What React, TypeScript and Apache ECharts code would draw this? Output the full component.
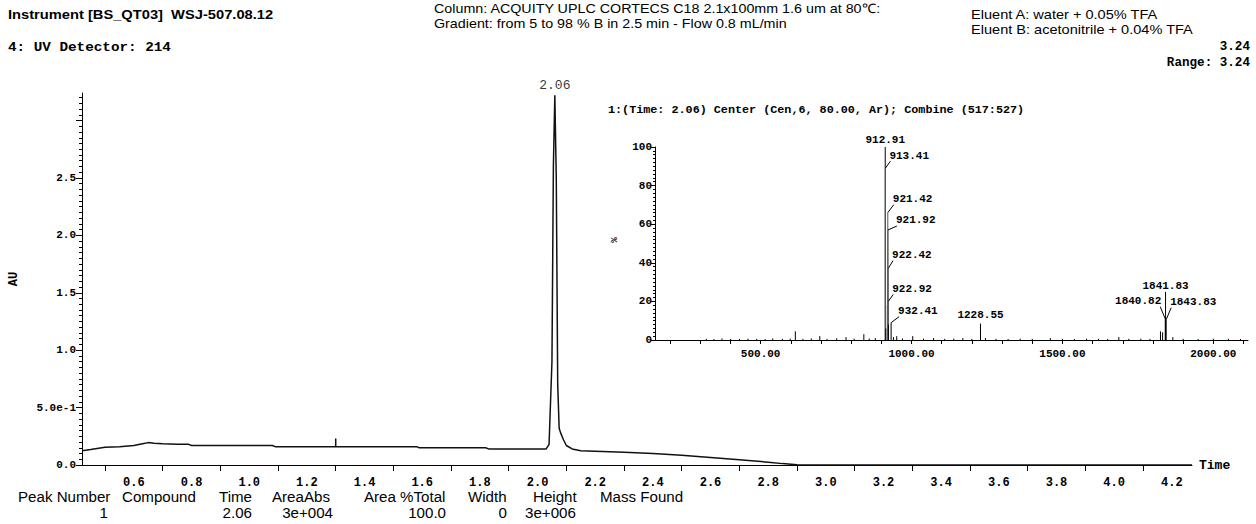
import React, { useEffect, useRef } from "react";
import * as echarts from "echarts";

// ---------- Chromatogram (UV 214) ----------
const chromTime = [0.42, 0.45, 0.5, 0.55, 0.6, 0.63, 0.65, 0.67, 0.7, 0.75, 0.79, 0.8, 0.9, 1.0, 1.08, 1.09, 1.2, 1.29, 1.3, 1.3, 1.3, 1.4, 1.5, 1.58, 1.59, 1.7, 1.82, 1.83, 1.95, 2.0, 2.03, 2.04, 2.05, 2.055, 2.06, 2.065, 2.07, 2.075, 2.08, 2.09, 2.1, 2.12, 2.15, 2.2, 2.3, 2.4, 2.5, 2.6, 2.7, 2.8, 2.85, 2.9, 3.0, 4.27];
const chromAU = [0.125, 0.135, 0.155, 0.16, 0.17, 0.185, 0.195, 0.19, 0.185, 0.18, 0.18, 0.17, 0.17, 0.17, 0.17, 0.16, 0.16, 0.16, 0.16, 0.23, 0.16, 0.16, 0.16, 0.16, 0.15, 0.15, 0.15, 0.14, 0.14, 0.14, 0.14, 0.18, 0.9, 2.6, 3.22, 2.5, 0.7, 0.32, 0.28, 0.22, 0.17, 0.14, 0.125, 0.12, 0.11, 0.1, 0.085, 0.065, 0.045, 0.025, 0.012, 0.003, 0, 0];
const peakTimes = [2.06];
const peakHeights = [3.22];

const xTickValues = [0.5, 0.7, 0.9, 1.1, 1.3, 1.5, 1.7, 1.9, 2.1, 2.3, 2.5, 2.7, 2.9, 3.1, 3.3, 3.5, 3.7, 3.9, 4.1];
const xLabelValues = [0.6, 0.8, 1.0, 1.2, 1.4, 1.6, 1.8, 2.0, 2.2, 2.4, 2.6, 2.8, 3.0, 3.2, 3.4, 3.6, 3.8, 4.0, 4.2];
const yMajorTicks = [0, 0.5, 1.0, 1.5, 2.0, 2.5, 3.0];
const yLabelValues = [0, 0.5, 1.0, 1.5, 2.0, 2.5];
const yLabelTexts = ["0.0", "5.0e-1", "1.0", "1.5", "2.0", "2.5"];
const yMinorTicks = Array.from({ length: 64 }, (_, i) => +((i + 1) * 0.05).toFixed(2));

// ---------- Mass spectrum (inset) ----------
const msMz = [320, 345, 372, 401, 430, 458, 487, 515, 540, 572, 598, 615, 640, 668, 696, 720, 752, 783, 810, 842, 860, 880, 912.91, 913.41, 913.91, 914.41, 914.91, 921.42, 921.92, 922.42, 922.92, 923.42, 932.41, 940, 951, 970, 1004, 1040, 1073, 1110, 1140, 1170, 1200, 1228.55, 1245, 1280, 1320, 1360, 1400, 1460, 1500, 1540, 1580, 1620, 1650, 1687, 1720, 1760, 1790, 1825, 1832, 1840.82, 1841.83, 1843.83, 1866, 1900, 1950, 2000, 2050, 2090];
const msIntensity = [0.6, 0.5, 0.8, 0.6, 0.5, 0.7, 0.6, 0.5, 0.8, 0.6, 0.7, 4.5, 0.6, 0.8, 2.0, 0.6, 0.9, 1.5, 0.7, 3.0, 0.8, 1.0, 100, 89, 45, 18, 6, 66, 57, 37, 20, 8, 9, 1.5, 2.0, 0.8, 2.0, 0.7, 1.0, 0.6, 0.7, 1.0, 0.6, 8.5, 1.0, 0.6, 0.5, 0.7, 0.6, 1.0, 0.6, 0.5, 0.7, 0.6, 0.5, 1.5, 0.6, 0.7, 0.6, 4.5, 4.0, 11, 12.5, 10.5, 1.5, 0.6, 0.5, 0.7, 0.6, 0.5];
const msLabelMz = [912.91, 913.41, 921.42, 921.92, 922.42, 922.92, 932.41, 1228.55, 1840.82, 1841.83, 1843.83];
const msLabelIntensity = [100, 89, 66, 57, 37, 20, 9, 8.5, 11, 12.5, 10.5];
const msXTicks = [200, 300, 400, 500, 600, 700, 800, 900, 1000, 1100, 1200, 1300, 1400, 1500, 1600, 1700, 1800, 1900, 2000, 2100];
const msXLabels = [500, 1000, 1500, 2000];
const msYMajor = [0, 20, 40, 60, 80, 100];
const msYMinor = Array.from({ length: 49 }, (_, i) => (i + 1) * 2);

// label leader placement (pixels): dx, dy from peak top; text alignment
const labelPlacement = [
  { dx: 0, dy: -2, align: "center" },
  { dx: 5, dy: -7, align: "left" },
  { dx: 6, dy: -8, align: "left" },
  { dx: 9, dy: -4, align: "left" },
  { dx: 5, dy: -8, align: "left" },
  { dx: 5, dy: -7, align: "left" },
  { dx: 8, dy: -6, align: "left" },
  { dx: 0, dy: -3, align: "center" },
  { dx: -5, dy: -12, align: "right" },
  { dx: 0, dy: -24, align: "center" },
  { dx: 5, dy: -12, align: "left" },
];

const MONO = '"Liberation Mono", "DejaVu Sans Mono", monospace';
const SANS = '"Liberation Sans", Arial, sans-serif';

const headerTexts = [
  { t: "Instrument [BS_QT03]  WSJ-507.08.12", x: 8, y: 14, f: `bold 13px ${SANS}`, a: "left", sx: 1.13 },
  { t: "4: UV Detector: 214", x: 8, y: 48, f: `bold 13px ${MONO}`, a: "left", sx: 1.1 },
  { t: "Column: ACQUITY UPLC CORTECS C18 2.1x100mm 1.6 um at 80℃:", x: 434, y: 9, f: `13px ${SANS}`, a: "left", sx: 1.1 },
  { t: "Gradient: from 5 to 98 % B in 2.5 min - Flow 0.8 mL/min", x: 434, y: 24, f: `13px ${SANS}`, a: "left", sx: 1.1 },
  { t: "Eluent A: water + 0.05% TFA", x: 971, y: 15, f: `13px ${SANS}`, a: "left", sx: 1.12 },
  { t: "Eluent B: acetonitrile + 0.04% TFA", x: 971, y: 30, f: `13px ${SANS}`, a: "left", sx: 1.12 },
  { t: "3.24", x: 1250, y: 47, f: `bold 12px ${MONO}`, a: "right", sx: 1.05 },
  { t: "Range: 3.24", x: 1250, y: 63, f: `bold 12px ${MONO}`, a: "right", sx: 1.05 },
  { t: "1:(Time: 2.06) Center (Cen,6, 80.00, Ar); Combine (517:527)", x: 608, y: 110, f: `bold 11px ${MONO}`, a: "left", sx: 1.07 },
];

const tableHeaders = ["Peak Number", "Compound", "Time", "AreaAbs", "Area %Total", "Width", "Height", "Mass Found"];
const tableValues = ["1", "", "2.06", "3e+004", "100.0", "0", "3e+006", ""];
const headerX = [18, 122, 219, 272, 364, 468, 533, 600];
const valueX = [108, 0, 252, 333, 446, 507, 525, 0];
const valueAlign = ["right", "left", "right", "right", "right", "right", "left", "left"];

export default function App() {
  const ref = useRef<HTMLDivElement>(null);
  useEffect(() => {
    if (!ref.current) return;
    const chart = echarts.init(ref.current, undefined, { renderer: "svg" });

    const graphics: any[] = headerTexts.map((h) => ({
      type: "text",
      x: h.x,
      y: h.y,
      scaleX: h.sx,
      style: { text: h.t, font: h.f, fill: "#000", align: h.a, verticalAlign: "middle" },
    }));
    tableHeaders.forEach((t, i) =>
      graphics.push({
        type: "text",
        x: headerX[i],
        y: 497,
        scaleX: 1.08,
        style: { text: t, font: `14px ${SANS}`, fill: "#000", align: "left", verticalAlign: "middle" },
      })
    );
    tableValues.forEach((t, i) => {
      if (!t) return;
      graphics.push({
        type: "text",
        x: valueX[i],
        y: 513,
        scaleX: 1.08,
        style: { text: t, font: `14px ${SANS}`, fill: "#000", align: valueAlign[i], verticalAlign: "middle" },
      });
    });
    graphics.push({
      type: "text",
      x: 613,
      y: 240,
      rotation: -Math.PI / 2,
      style: { text: "%", font: `bold 9px ${MONO}`, fill: "#000", align: "center", verticalAlign: "middle" },
    });

    const axisLabelMono = { fontFamily: MONO, fontWeight: "bold" as const, fontSize: 11, color: "#000" };

    const option: any = {
      animation: false,
      backgroundColor: "#fff",
      grid: [
        { left: 82, right: 64, top: 93, bottom: 59 },
        { left: 655, top: 147, width: 593, height: 193 },
      ],
      xAxis: [
        {
          type: "value",
          gridIndex: 0,
          position: "bottom",
          min: 0.42,
          max: 4.27,
          name: "Time",
          nameLocation: "end",
          nameGap: 7,
          nameTextStyle: { fontFamily: MONO, fontWeight: "bold", fontSize: 13, color: "#000" },
          axisLine: { show: true, lineStyle: { color: "#000", width: 1 } },
          axisTick: { show: true, customValues: xTickValues, length: 6, inside: false, lineStyle: { color: "#000" } },
          axisLabel: {
            customValues: xLabelValues,
            formatter: (v: number) => v.toFixed(1),
            margin: 12,
            fontFamily: MONO,
            fontWeight: "bold",
            fontSize: 12,
            color: "#000",
          },
          splitLine: { show: false },
        },
        {
          type: "value",
          gridIndex: 1,
          position: "bottom",
          min: 150,
          max: 2115,
          axisLine: { show: true, lineStyle: { color: "#000", width: 1 } },
          axisTick: { show: true, customValues: msXTicks, length: 4, lineStyle: { color: "#000" } },
          axisLabel: {
            customValues: msXLabels,
            formatter: (v: number) => v.toFixed(2),
            margin: 8,
            ...axisLabelMono,
          },
          splitLine: { show: false },
        },
      ],
      yAxis: [
        {
          type: "value",
          gridIndex: 0,
          position: "left",
          min: 0,
          max: 3.24,
          name: "AU",
          nameLocation: "middle",
          nameGap: 62,
          nameRotate: 90,
          nameTextStyle: { fontFamily: MONO, fontWeight: "bold", fontSize: 12, color: "#000" },
          axisLine: { show: true, lineStyle: { color: "#000", width: 1 } },
          axisTick: { show: true, customValues: yMajorTicks, length: 6, lineStyle: { color: "#000" } },
          axisLabel: {
            customValues: yLabelValues,
            formatter: (v: number) => {
              const i = yLabelValues.findIndex((x) => Math.abs(x - v) < 1e-6);
              return i >= 0 ? yLabelTexts[i] : "";
            },
            margin: 6,
            ...axisLabelMono,
          },
          splitLine: { show: false },
        },
        {
          type: "value",
          gridIndex: 0,
          position: "left",
          offset: 0,
          min: 0,
          max: 3.24,
          axisLine: { show: false },
          axisTick: { show: true, customValues: yMinorTicks, length: 3, lineStyle: { color: "#000" } },
          axisLabel: { show: false },
          splitLine: { show: false },
        },
        {
          type: "value",
          gridIndex: 1,
          position: "left",
          min: 0,
          max: 100,
          axisLine: { show: true, lineStyle: { color: "#000", width: 1 } },
          axisTick: { show: true, customValues: msYMajor, length: 4, lineStyle: { color: "#000" } },
          axisLabel: { customValues: msYMajor, margin: 3, ...axisLabelMono },
          splitLine: { show: false },
        },
        {
          type: "value",
          gridIndex: 1,
          position: "left",
          offset: 0,
          min: 0,
          max: 100,
          axisLine: { show: false },
          axisTick: { show: true, customValues: msYMinor, length: 2, lineStyle: { color: "#000" } },
          axisLabel: { show: false },
          splitLine: { show: false },
        },
      ],
      graphic: graphics,
      series: [
        {
          type: "line",
          xAxisIndex: 0,
          yAxisIndex: 0,
          data: chromTime.map((t, i) => [t, chromAU[i]]),
          showSymbol: false,
          symbol: "none",
          lineStyle: { color: "#111", width: 1.5 },
          z: 3,
        },
        {
          type: "scatter",
          xAxisIndex: 0,
          yAxisIndex: 0,
          data: peakTimes.map((t, i) => [t, peakHeights[i]]),
          symbolSize: 0,
          label: {
            show: true,
            position: "top",
            distance: 3,
            formatter: (p: any) => p.value[0].toFixed(2),
            fontFamily: MONO,
            fontSize: 13,
            color: "#000",
          },
        },
        {
          type: "custom",
          xAxisIndex: 1,
          yAxisIndex: 2,
          clip: false,
          data: msMz.map((m, i) => [m, msIntensity[i]]),
          renderItem: (params: any, api: any) => {
            const top = api.coord([api.value(0), api.value(1)]);
            const base = api.coord([api.value(0), 0]);
            return {
              type: "line",
              shape: { x1: top[0], y1: top[1], x2: base[0], y2: base[1] },
              style: { stroke: api.value(1) > 15 && api.value(1) < 95 ? "#555" : "#000", lineWidth: 1 },
            };
          },
          z: 3,
        },
        {
          type: "custom",
          xAxisIndex: 1,
          yAxisIndex: 2,
          clip: false,
          data: msLabelMz.map((m, i) => [m, msLabelIntensity[i], i]),
          renderItem: (params: any, api: any) => {
            const i = api.value(2);
            const p = api.coord([api.value(0), api.value(1)]);
            const pl = labelPlacement[i];
            const ex = p[0] + pl.dx;
            const ey = p[1] + pl.dy;
            const children: any[] = [];
            if (pl.dx !== 0 || pl.dy < -4) {
              children.push({
                type: "line",
                shape: { x1: p[0], y1: p[1], x2: ex, y2: ey },
                style: { stroke: "#000", lineWidth: 1 },
              });
            }
            const tx = pl.align === "left" ? ex - 1 : pl.align === "right" ? ex + 1 : ex;
            children.push({
              type: "text",
              x: tx,
              y: ey,
              style: {
                text: msLabelMz[i].toFixed(2),
                font: `bold 11px ${MONO}`,
                fill: "#000",
                align: pl.align,
                verticalAlign: "bottom",
              },
            });
            return { type: "group", children };
          },
          z: 4,
        },
      ],
    };
    chart.setOption(option);
    return () => chart.dispose();
  }, []);
  return (
    <div
      ref={ref}
      style={{ position: "fixed", left: 0, top: 0, width: 1256, height: 524, background: "#fff" }}
    />
  );
}
